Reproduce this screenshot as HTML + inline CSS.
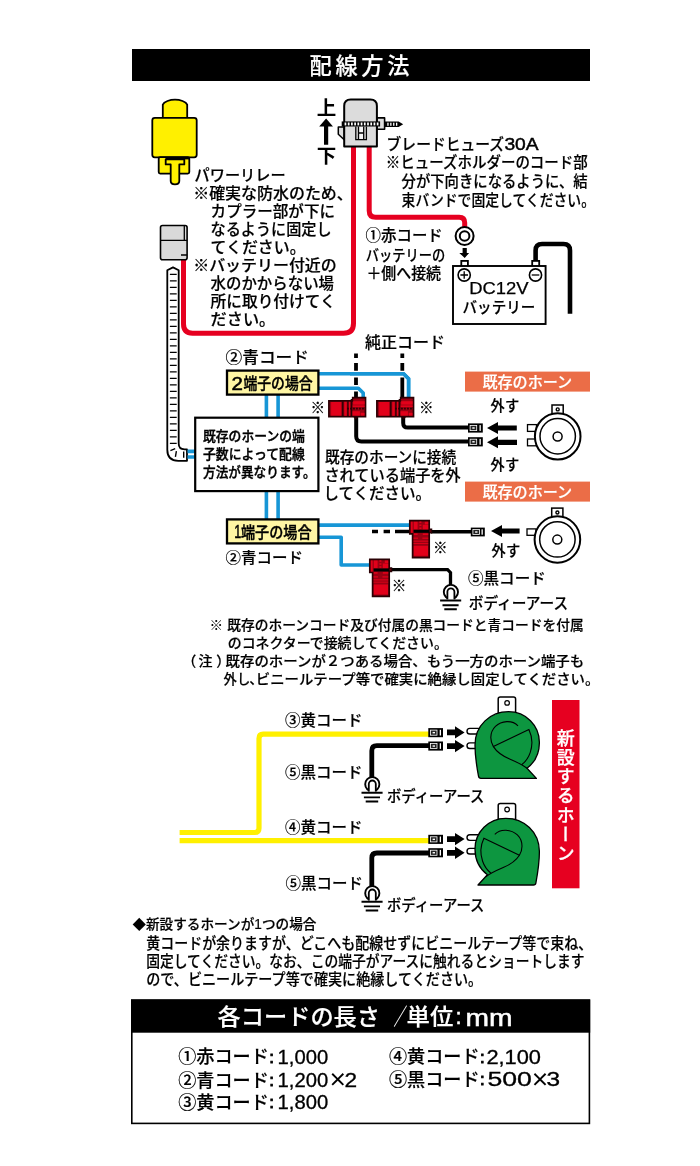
<!DOCTYPE html>
<html lang="ja">
<head>
<meta charset="utf-8">
<title>配線方法</title>
<style>
html,body{margin:0;padding:0;background:#fff;}
body{width:700px;height:1166px;overflow:hidden;position:relative;font-family:"Liberation Sans","Noto Sans CJK JP",sans-serif;}
svg{position:absolute;left:0;top:0;display:block;will-change:transform;}
svg text{font-family:"Liberation Sans","Noto Sans CJK JP",sans-serif;}
.vert{position:absolute;left:549.3px;top:701.8px;width:27.5px;height:188.3px;color:#fff;
 writing-mode:vertical-rl;text-orientation:upright;font-size:18px;font-weight:500;line-height:27.5px;
 letter-spacing:1.2px;text-align:center;white-space:nowrap;-webkit-text-stroke:0.25px #fff;}
</style>
</head>
<body>
<svg width="700" height="1166" viewBox="0 0 700 1166">
<rect x="132" y="49" width="458" height="32" fill="#000"/>
<text x="309.4" y="74.1" font-size="22.2" font-weight="500" fill="#fff" stroke="#fff" stroke-width="0.2" letter-spacing="3.8">配線方法</text>
<g fill="none" stroke="#e60020" stroke-width="5">
<path d="M353.5,146 V323.2 Q353.5,333.2 343.5,333.2 H192.6 Q183.5,333.2 183.5,324.1 V259"/>
<path d="M369.2,146 V210.7 Q369.2,217.2 375.7,217.2 H459.2 Q464.7,217.2 464.7,222.7 V228"/>
</g>
<g fill="#fff000" stroke="#000" stroke-width="1.8" stroke-linejoin="round">
<path d="M162.8,118 V104.6 C164,101.6 170,99.7 175,99.7 C180,99.7 186,101.6 187.2,104.6 V118 Z"/>
<rect x="152.3" y="117.8" width="44.4" height="39.5" rx="2.5"/>
<rect x="158.7" y="157.2" width="30.6" height="16.4" rx="1.5"/>
<path d="M165.7,159.3 H184.3 V164.4 H179.3 V181 Q179.3,184.3 175,184.3 Q170.7,184.3 170.7,181 V164.4 H165.7 Z"/>
</g>
<rect x="165.6" y="157.2" width="23.4" height="2.2" fill="#000"/>
<text x="326.4" y="114.6" font-size="19.5" font-weight="700" fill="#000" text-anchor="middle">上</text>
<text x="326.4" y="163.3" font-size="19.5" font-weight="700" fill="#000" text-anchor="middle">下</text>
<path d="M326.1,118.4 L333,126.6 H328.2 V144.8 H324 V126.6 H319.2 Z" fill="#000"/>
<g fill="#dcdcdc" stroke="#000" stroke-linejoin="round">
<path d="M344.2,127 H338.3 V134.3 L344.2,139.8 Z" stroke-width="1.5"/>
<rect x="377" y="117.9" width="7.6" height="11.4" stroke-width="1.6"/>
<path d="M344.2,146.5 V106 Q344.2,99.5 350.7,99.5 H370.4 Q376.9,99.5 376.9,106 V146.5 Z" stroke-width="2"/>
</g>
<rect x="358.4" y="127" width="5.4" height="12.8" fill="#f4f4f4"/>
<path d="M355.8,126.5 V139.7 H366.4 V126.5 M358.5,126.5 V139.7 M363.7,126.5 V139.7 M358.5,133 H363.7" fill="none" stroke="#000" stroke-width="1.3"/>
<rect x="341.7" y="121.4" width="38.4" height="5.1" fill="#000"/>
<rect x="344.60" y="122.5" width="1.7" height="2.9" fill="#fff"/>
<rect x="347.82" y="122.5" width="1.7" height="2.9" fill="#fff"/>
<rect x="351.04" y="122.5" width="1.7" height="2.9" fill="#fff"/>
<rect x="354.26" y="122.5" width="1.7" height="2.9" fill="#fff"/>
<rect x="357.48" y="122.5" width="1.7" height="2.9" fill="#fff"/>
<rect x="360.70" y="122.5" width="1.7" height="2.9" fill="#fff"/>
<rect x="363.92" y="122.5" width="1.7" height="2.9" fill="#fff"/>
<rect x="367.14" y="122.5" width="1.7" height="2.9" fill="#fff"/>
<rect x="370.36" y="122.5" width="1.7" height="2.9" fill="#fff"/>
<rect x="373.58" y="122.5" width="1.7" height="2.9" fill="#fff"/>
<rect x="376.80" y="122.5" width="1.7" height="2.9" fill="#fff"/>
<path d="M385,121.4 H398.6 L403.2,124.2 L398.6,127.1 H385 Z" fill="#000"/>
<rect x="387.30" y="122.7" width="1.3" height="3.1" fill="#fff"/>
<rect x="390.20" y="122.7" width="1.3" height="3.1" fill="#fff"/>
<rect x="393.10" y="122.7" width="1.3" height="3.1" fill="#fff"/>
<rect x="396.00" y="122.7" width="1.3" height="3.1" fill="#fff"/>
<circle cx="464.6" cy="236" r="9" fill="#fff" stroke="#000" stroke-width="2"/>
<circle cx="464.6" cy="236" r="4.8" fill="#fff" stroke="#000" stroke-width="2"/>
<path d="M462.6,247.9 H466.8 V252.9 H469.1 L464.7,258.1 L459.3,252.9 H462.6 Z" fill="#000"/>
<path d="M535.6,262 V250.5 Q535.6,244 542.1,244 H563.5 Q570,244 570,250.5 V313.8" fill="none" stroke="#000" stroke-width="4.6"/>
<rect x="461.3" y="260.9" width="6.6" height="6" fill="#fff" stroke="#000" stroke-width="1.8"/>
<rect x="532.2" y="260.9" width="7" height="6" fill="#fff" stroke="#000" stroke-width="1.8"/>
<rect x="453" y="266" width="92.6" height="58" fill="#fff" stroke="#000" stroke-width="1.9"/>
<circle cx="464.2" cy="275" r="6.1" fill="#fff" stroke="#000" stroke-width="1.6"/>
<path d="M460.4,275 H468 M464.2,271.2 V278.8" stroke="#000" stroke-width="1.3" fill="none"/>
<circle cx="535.5" cy="275" r="6.1" fill="#fff" stroke="#000" stroke-width="1.6"/>
<path d="M531.7,275 H539.3" stroke="#000" stroke-width="1.3" fill="none"/>
<text x="469.2" y="293.6" font-size="16" font-weight="400" fill="#000" textLength="59.4" lengthAdjust="spacingAndGlyphs" stroke="#000" stroke-width="0.25">DC12V</text>
<text x="462.6" y="312.8" font-size="15.6" font-weight="500" fill="#000" stroke="#000" stroke-width="0.2" textLength="72.6" lengthAdjust="spacingAndGlyphs">バッテリー</text>
<rect x="160.5" y="225.5" width="26.6" height="34.2" rx="2" fill="#d9d9d9" stroke="#000" stroke-width="1.6"/>
<path d="M160.5,240.4 H187.1 M184.3,225.5 V240.4 M181,255 H187.1" stroke="#000" stroke-width="1.3" fill="none"/>
<path d="M167.3,270.2 L173,267.4 L178.7,270.2 V443.5 Q178.7,449.3 184.5,449.3 H187 V460.8 H178.3 Q167.3,460.8 167.3,449.8 Z" fill="#fff" stroke="#000" stroke-width="1.8" stroke-linejoin="round"/>
<path d="M169.9,274.4 H176.7 M169.9,280.9 H176.7 M169.9,287.4 H176.7 M169.9,293.9 H176.7 M169.9,300.4 H176.7 M169.9,306.9 H176.7 M169.9,313.4 H176.7 M169.9,319.9 H176.7 M169.9,326.4 H176.7 M169.9,332.9 H176.7 M169.9,339.4 H176.7 M169.9,345.9 H176.7 M169.9,352.4 H176.7 M169.9,358.9 H176.7 M169.9,365.4 H176.7 M169.9,371.9 H176.7 M169.9,378.4 H176.7 M169.9,384.9 H176.7 M169.9,391.4 H176.7 M169.9,397.9 H176.7 M169.9,404.4 H176.7 M169.9,410.9 H176.7 M169.9,417.4 H176.7 M169.9,423.9 H176.7 M169.9,430.4 H176.7 M169.9,436.9 H176.7 M169.9,443.4 H176.7 M170.4,450.6 L175.2,448.6 M176.4,451.2 L175.4,456.8 M183.7,451.4 V457.8" stroke="#000" stroke-width="1.4" fill="none"/>
<g fill="none" stroke="#1796d6" stroke-width="3.6" stroke-linejoin="round">
<path d="M187.5,451.4 H195 M187.5,457 H195"/>
<path d="M318,373.7 H403.6 L408.6,378.7 V398"/>
<path d="M318,388.2 H358.4 L363.2,393 V398"/>
<path d="M266.4,394 V418 M278.1,394 V418"/>
<path d="M266.4,491 V520 M278.1,491 V520"/>
<path d="M318,525.1 H410"/>
<path d="M318,537.2 H341.2 V565 H370"/>
</g>
<g stroke="#000" stroke-width="3.8" fill="none">
<path d="M356,353.6 V357.9 M356,362.9 V370.7 M356,377.4 V385 M356,391.6 V398"/>
<path d="M402.3,353.6 V357.9 M402.3,362.9 V370.7 M402.3,377.4 V398"/>
</g>
<path d="M350,373.7 H403.6 L408.6,378.7 V398" fill="none" stroke="#1796d6" stroke-width="3.4"/>
<g stroke="#000" stroke-width="4" fill="none">
<path d="M356.2,417 V436.3 Q356.2,441.5 361.4,441.5 H469"/>
<path d="M403.2,417 V423 Q403.2,427.6 407.8,427.6 H469"/>
</g>
<rect x="227" y="370.6" width="91.4" height="24" fill="#fff6a4" stroke="#000" stroke-width="2.3"/>
<text x="231.6" y="389.9" font-size="17.5" font-weight="400" fill="#000" textLength="11.4" lengthAdjust="spacingAndGlyphs" stroke="#000" stroke-width="0.5">2</text>
<text x="243.4" y="389.0" font-size="15.6" font-weight="500" fill="#000" stroke="#000" stroke-width="0.38" textLength="69.2" lengthAdjust="spacingAndGlyphs">端子の場合</text>
<rect x="227" y="519.4" width="91.4" height="24" fill="#fff6a4" stroke="#000" stroke-width="2.3"/>
<text x="234.2" y="538.4" font-size="17.5" font-weight="400" fill="#000" textLength="7.0" lengthAdjust="spacingAndGlyphs" stroke="#000" stroke-width="0.5">1</text>
<text x="241.0" y="537.5" font-size="15.6" font-weight="500" fill="#000" stroke="#000" stroke-width="0.38" textLength="70.6" lengthAdjust="spacingAndGlyphs">端子の場合</text>
<rect x="195.2" y="417.7" width="123.2" height="73.4" fill="#fff" stroke="#000" stroke-width="2.2"/>
<text x="203.0" y="440.8" font-size="13.2" font-weight="500" fill="#000" stroke="#000" stroke-width="0.38" textLength="101.8" lengthAdjust="spacingAndGlyphs">既存のホーンの端</text>
<text x="203.0" y="458.9" font-size="13.2" font-weight="500" fill="#000" stroke="#000" stroke-width="0.38" textLength="101.8" lengthAdjust="spacingAndGlyphs">子数によって配線</text>
<text x="203.0" y="476.8" font-size="13.2" font-weight="500" fill="#000" stroke="#000" stroke-width="0.38" textLength="112.6" lengthAdjust="spacingAndGlyphs">方法が異なります。</text>
<text x="225.6" y="363.4" font-size="16" font-weight="500" fill="#000" stroke="#000" stroke-width="0.2" textLength="83.4" lengthAdjust="spacingAndGlyphs">②青コード</text>
<text x="225.6" y="562.5" font-size="15.2" font-weight="500" fill="#000" stroke="#000" stroke-width="0.2" textLength="77.4" lengthAdjust="spacingAndGlyphs">②青コード</text>
<text x="365.0" y="347.5" font-size="16" font-weight="500" fill="#000" stroke="#000" stroke-width="0.2" textLength="80.0" lengthAdjust="spacingAndGlyphs">純正コード</text>
<g transform="translate(328.1,400)"><path d="M0.8,0.8 H24.6 V-2.3 H37.4 V16.7 H0.8 Z" fill="#9a0012" stroke="#2a0004" stroke-width="1.7" stroke-linejoin="miter"/><rect x="3" y="2" width="10" height="13.6" fill="#e2001a"/><rect x="14" y="1.4" width="1.4" height="14.8" fill="#2a0004"/><rect x="16.2" y="1.8" width="2.4" height="14" fill="#e2001a"/><rect x="19.2" y="1.4" width="1.1" height="14.8" fill="#2a0004"/><rect x="20.9" y="1.8" width="1.3" height="14" fill="#e2001a"/><rect x="22.6" y="-1" width="1.6" height="17.2" fill="#2a0004"/><rect x="25" y="-1" width="11.4" height="1.6" fill="#9a0012"/><rect x="25" y="1.2" width="11.6" height="3.4" fill="#e2001a"/><rect x="24.6" y="5.4" width="12" height="1.6" fill="#e2001a"/><rect x="24.4" y="11.2" width="7.4" height="4.4" fill="#e2001a"/><rect x="32.6" y="12.8" width="3.8" height="2.8" fill="#e2001a"/><path d="M19,8.6 H37" stroke="#2a0004" stroke-width="1.8" stroke-dasharray="1.7 1.3" fill="none"/><path d="M25.2,17.2 H30 L27.8,19.6 Z" fill="#2a0004"/></g>
<g transform="translate(376.1,400)"><path d="M0.8,0.8 H24.6 V-2.3 H37.4 V16.7 H0.8 Z" fill="#9a0012" stroke="#2a0004" stroke-width="1.7" stroke-linejoin="miter"/><rect x="3" y="2" width="10" height="13.6" fill="#e2001a"/><rect x="14" y="1.4" width="1.4" height="14.8" fill="#2a0004"/><rect x="16.2" y="1.8" width="2.4" height="14" fill="#e2001a"/><rect x="19.2" y="1.4" width="1.1" height="14.8" fill="#2a0004"/><rect x="20.9" y="1.8" width="1.3" height="14" fill="#e2001a"/><rect x="22.6" y="-1" width="1.6" height="17.2" fill="#2a0004"/><rect x="25" y="-1" width="11.4" height="1.6" fill="#9a0012"/><rect x="25" y="1.2" width="11.6" height="3.4" fill="#e2001a"/><rect x="24.6" y="5.4" width="12" height="1.6" fill="#e2001a"/><rect x="24.4" y="11.2" width="7.4" height="4.4" fill="#e2001a"/><rect x="32.6" y="12.8" width="3.8" height="2.8" fill="#e2001a"/><path d="M19,8.6 H37" stroke="#2a0004" stroke-width="1.8" stroke-dasharray="1.7 1.3" fill="none"/><path d="M25.2,17.2 H30 L27.8,19.6 Z" fill="#2a0004"/></g>
<path d="M372,531.5 H378 M383.6,531.5 H390 M395,531.5 H410" stroke="#000" stroke-width="3.6" fill="none"/>
<path d="M431,531.7 H472" stroke="#000" stroke-width="3.4" fill="none"/>
<path d="M389,569.7 H447.6 L450.5,572.6 V585" stroke="#000" stroke-width="3.3" fill="none" stroke-linejoin="miter"/>
<g transform="translate(409,519.8)"><path d="M0.8,0.8 H20.2 V9.6 H22.4 V12.8 H20.2 V37.8 H3.6 V14 H0.8 Z" fill="#9a0012" stroke="#2a0004" stroke-width="1.7" stroke-linejoin="miter"/><rect x="1.8" y="2" width="1.8" height="11" fill="#e2001a"/><rect x="4.8" y="2" width="3.8" height="7.6" fill="#e2001a"/><rect x="13.8" y="5" width="5.4" height="4.6" fill="#e2001a"/><rect x="15.8" y="2" width="3.4" height="2.6" fill="#e2001a"/><path d="M11.4,1.8 V9.4" stroke="#e2001a" stroke-width="2" stroke-dasharray="1.5 1.5" fill="none"/><rect x="4.6" y="10" width="16" height="3" fill="#000"/><rect x="4.8" y="13.6" width="3.8" height="1.6" fill="#e2001a"/><rect x="13.8" y="13.6" width="5.4" height="1.6" fill="#e2001a"/><rect x="4.6" y="17.8" width="4.4" height="1.2" fill="#e2001a"/><rect x="13.4" y="17.8" width="5.8" height="1.2" fill="#e2001a"/><rect x="4.6" y="20.8" width="14.6" height="1.1" fill="#e2001a"/><rect x="4.6" y="23.2" width="14.6" height="0.9" fill="#e2001a"/><rect x="4.8" y="26" width="14.2" height="10" fill="#e2001a"/></g>
<g transform="translate(369,558.5)"><path d="M0.8,0.8 H20.2 V9.6 H22.4 V12.8 H20.2 V37.8 H3.6 V14 H0.8 Z" fill="#9a0012" stroke="#2a0004" stroke-width="1.7" stroke-linejoin="miter"/><rect x="1.8" y="2" width="1.8" height="11" fill="#e2001a"/><rect x="4.8" y="2" width="3.8" height="7.6" fill="#e2001a"/><rect x="13.8" y="5" width="5.4" height="4.6" fill="#e2001a"/><rect x="15.8" y="2" width="3.4" height="2.6" fill="#e2001a"/><path d="M11.4,1.8 V9.4" stroke="#e2001a" stroke-width="2" stroke-dasharray="1.5 1.5" fill="none"/><rect x="4.6" y="10" width="16" height="3" fill="#000"/><rect x="4.8" y="13.6" width="3.8" height="1.6" fill="#e2001a"/><rect x="13.8" y="13.6" width="5.4" height="1.6" fill="#e2001a"/><rect x="4.6" y="17.8" width="4.4" height="1.2" fill="#e2001a"/><rect x="13.4" y="17.8" width="5.8" height="1.2" fill="#e2001a"/><rect x="4.6" y="20.8" width="14.6" height="1.1" fill="#e2001a"/><rect x="4.6" y="23.2" width="14.6" height="0.9" fill="#e2001a"/><rect x="4.8" y="26" width="14.2" height="10" fill="#e2001a"/></g>
<text x="310.4" y="413.3" font-size="14.6" font-weight="500" fill="#000" stroke="#000" stroke-width="0.2">※</text>
<text x="419.0" y="413.3" font-size="14.6" font-weight="500" fill="#000" stroke="#000" stroke-width="0.2">※</text>
<text x="433.0" y="553.2" font-size="14.6" font-weight="500" fill="#000" stroke="#000" stroke-width="0.2">※</text>
<text x="391.8" y="591.3" font-size="14.6" font-weight="500" fill="#000" stroke="#000" stroke-width="0.2">※</text>
<rect x="468" y="423.4" width="14.8" height="9.2" fill="#000"/>
<rect x="470.10" y="425.40" width="6.6" height="5.20" fill="#222" stroke="#fff" stroke-width="0.8"/>
<rect x="472.30" y="427.30" width="2.4" height="1.4" fill="#fff"/>
<rect x="479.50" y="425.10" width="1.3" height="5.80" fill="#fff"/>
<rect x="468" y="437.2" width="14.8" height="9.2" fill="#000"/>
<rect x="470.10" y="439.20" width="6.6" height="5.20" fill="#222" stroke="#fff" stroke-width="0.8"/>
<rect x="472.30" y="441.10" width="2.4" height="1.4" fill="#fff"/>
<rect x="479.50" y="438.90" width="1.3" height="5.80" fill="#fff"/>
<rect x="470.8" y="527.6" width="14" height="8.8" fill="#000"/>
<rect x="472.90" y="529.60" width="6.6" height="4.80" fill="#222" stroke="#fff" stroke-width="0.8"/>
<rect x="475.10" y="531.30" width="2.4" height="1.4" fill="#fff"/>
<rect x="481.50" y="529.30" width="1.3" height="5.40" fill="#fff"/>
<path d="M487,428 L498,422 V425.4 H516.8 V430.6 H498 V434 Z" fill="#000"/>
<path d="M487,442.3 L498,436.3 V439.7 H517 V444.90000000000003 H498 V448.3 Z" fill="#000"/>
<path d="M491,531 L502,525 V528.4 H519.6 V533.6 H502 V537 Z" fill="#000"/>
<rect x="552.0" y="405.0" width="11.2" height="10" fill="#fff" stroke="#000" stroke-width="1.5"/>
<circle cx="557.7" cy="409.4" r="1.5" fill="#fff" stroke="#000" stroke-width="1.4"/>
<rect x="527.5" y="424.6" width="9" height="6.8" fill="#fff" stroke="#000" stroke-width="1.3"/>
<rect x="527.5" y="439.0" width="9" height="6.8" fill="#fff" stroke="#000" stroke-width="1.3"/>
<ellipse cx="557.7" cy="436.4" rx="22.8" ry="23.2" fill="#fff" stroke="#000" stroke-width="2"/>
<circle cx="557.7" cy="436.3" r="17.7" fill="#fff" stroke="#000" stroke-width="1.5"/>
<circle cx="557.6" cy="436.5" r="4.5" fill="#fff" stroke="#000" stroke-width="1.5"/>
<rect x="551.7" y="508.1" width="11.2" height="10" fill="#fff" stroke="#000" stroke-width="1.5"/>
<circle cx="557.4" cy="512.5" r="1.5" fill="#fff" stroke="#000" stroke-width="1.4"/>
<rect x="527.0" y="528.9" width="9" height="6.4" fill="#fff" stroke="#000" stroke-width="1.3"/>
<ellipse cx="557.4" cy="539.5" rx="22.8" ry="23.2" fill="#fff" stroke="#000" stroke-width="2"/>
<circle cx="557.4" cy="539.4" r="17.7" fill="#fff" stroke="#000" stroke-width="1.5"/>
<circle cx="557.3" cy="539.5999999999999" r="4.5" fill="#fff" stroke="#000" stroke-width="1.5"/>
<rect x="465" y="371.6" width="125" height="20" fill="#eb6d47"/>
<text x="482.4" y="387.7" font-size="15.6" font-weight="500" fill="#fff" stroke="#fff" stroke-width="0.2" textLength="89.8" lengthAdjust="spacingAndGlyphs">既存のホーン</text>
<rect x="465" y="481.6" width="125" height="20" fill="#eb6d47"/>
<text x="482.4" y="497.7" font-size="15.6" font-weight="500" fill="#fff" stroke="#fff" stroke-width="0.2" textLength="89.8" lengthAdjust="spacingAndGlyphs">既存のホーン</text>
<text x="490.6" y="410.6" font-size="14.5" font-weight="500" fill="#000" stroke="#000" stroke-width="0.2" textLength="28.6" lengthAdjust="spacingAndGlyphs">外す</text>
<text x="490.6" y="469.6" font-size="14.5" font-weight="500" fill="#000" stroke="#000" stroke-width="0.2" textLength="28.6" lengthAdjust="spacingAndGlyphs">外す</text>
<text x="491.6" y="556.2" font-size="14.5" font-weight="500" fill="#000" stroke="#000" stroke-width="0.2" textLength="28.6" lengthAdjust="spacingAndGlyphs">外す</text>
<circle cx="450.9" cy="592" r="7.1" fill="#fff" stroke="#000" stroke-width="1.9"/>
<path d="M447.4,600 V591.8 A3.5,3.5 0 0 1 454.4,591.8 V600" fill="#fff" stroke="#000" stroke-width="1.8"/>
<rect x="440.9" y="599.4" width="20" height="11.6" fill="#fff"/>
<path d="M440.09999999999997,600.5 H461.2 M442.5,605.2 H458.59999999999997 M444.29999999999995,609.3 H456.79999999999995" stroke="#000" stroke-width="1.9" fill="none"/>
<text x="468.0" y="583.8" font-size="15.4" font-weight="500" fill="#000" stroke="#000" stroke-width="0.2" textLength="77.8" lengthAdjust="spacingAndGlyphs">⑤黒コード</text>
<text x="468.8" y="608.5" font-size="15.6" font-weight="500" fill="#000" stroke="#000" stroke-width="0.2" textLength="99.4" lengthAdjust="spacingAndGlyphs">ボディーアース</text>
<text x="194.6" y="181.2" font-size="15.5" font-weight="500" fill="#000" stroke="#000" stroke-width="0.2" textLength="91.0" lengthAdjust="spacingAndGlyphs">パワーリレー</text>
<text x="193.2" y="198.8" font-size="15.6" font-weight="500" fill="#000" stroke="#000" stroke-width="0.2" textLength="159.6" lengthAdjust="spacingAndGlyphs">※確実な防水のため、</text>
<text x="210.6" y="216.8" font-size="15.6" font-weight="500" fill="#000" stroke="#000" stroke-width="0.2" textLength="124.4" lengthAdjust="spacingAndGlyphs">カプラー部が下に</text>
<text x="210.6" y="234.8" font-size="15.6" font-weight="500" fill="#000" stroke="#000" stroke-width="0.2" textLength="121.0" lengthAdjust="spacingAndGlyphs">なるように固定し</text>
<text x="210.6" y="252.8" font-size="15.6" font-weight="500" fill="#000" stroke="#000" stroke-width="0.2" textLength="95.0" lengthAdjust="spacingAndGlyphs">てください。</text>
<text x="193.2" y="270.9" font-size="15.6" font-weight="500" fill="#000" stroke="#000" stroke-width="0.2" textLength="143.6" lengthAdjust="spacingAndGlyphs">※バッテリー付近の</text>
<text x="210.6" y="288.9" font-size="15.6" font-weight="500" fill="#000" stroke="#000" stroke-width="0.2" textLength="123.4" lengthAdjust="spacingAndGlyphs">水のかからない場</text>
<text x="210.6" y="306.9" font-size="15.6" font-weight="500" fill="#000" stroke="#000" stroke-width="0.2" textLength="125.0" lengthAdjust="spacingAndGlyphs">所に取り付けてく</text>
<text x="210.6" y="324.9" font-size="15.6" font-weight="500" fill="#000" stroke="#000" stroke-width="0.2" textLength="64.6" lengthAdjust="spacingAndGlyphs">ださい。</text>
<text x="386.6" y="149.5" font-size="15.8" font-weight="500" fill="#000" stroke="#000" stroke-width="0.2" textLength="117.4" lengthAdjust="spacingAndGlyphs">ブレードヒューズ</text>
<text x="504.4" y="150.3" font-size="17" font-weight="400" fill="#000" textLength="34.2" lengthAdjust="spacingAndGlyphs" stroke="#000" stroke-width="0.45">30A</text>
<text x="385.8" y="168.3" font-size="15.6" font-weight="500" fill="#000" stroke="#000" stroke-width="0.2" textLength="202.0" lengthAdjust="spacingAndGlyphs">※ヒューズホルダーのコード部</text>
<text x="401.6" y="187.2" font-size="15.6" font-weight="500" fill="#000" stroke="#000" stroke-width="0.2" textLength="186.0" lengthAdjust="spacingAndGlyphs">分が下向きになるように、結</text>
<text x="401.6" y="206.2" font-size="15.6" font-weight="500" fill="#000" stroke="#000" stroke-width="0.2" textLength="193.4" lengthAdjust="spacingAndGlyphs">束バンドで固定してください。</text>
<text x="365.6" y="241.3" font-size="15.5" font-weight="500" fill="#000" stroke="#000" stroke-width="0.2" textLength="77.2" lengthAdjust="spacingAndGlyphs">①赤コード</text>
<text x="365.8" y="261.2" font-size="15.6" font-weight="500" fill="#000" stroke="#000" stroke-width="0.2" textLength="79.4" lengthAdjust="spacingAndGlyphs">バッテリーの</text>
<text x="366.4" y="279.2" font-size="15.6" font-weight="500" fill="#000" stroke="#000" stroke-width="0.2" textLength="74.6" lengthAdjust="spacingAndGlyphs">＋側へ接続</text>
<text x="325.0" y="463.1" font-size="15.6" font-weight="500" fill="#000" stroke="#000" stroke-width="0.2" textLength="131.2" lengthAdjust="spacingAndGlyphs">既存のホーンに接続</text>
<text x="324.4" y="480.9" font-size="15.6" font-weight="500" fill="#000" stroke="#000" stroke-width="0.2" textLength="136.4" lengthAdjust="spacingAndGlyphs">されている端子を外</text>
<text x="323.4" y="498.9" font-size="15.6" font-weight="500" fill="#000" stroke="#000" stroke-width="0.2" textLength="107.6" lengthAdjust="spacingAndGlyphs">してください。</text>
<text x="209.6" y="629.7" font-size="13.5" font-weight="400" fill="#000">※</text>
<text x="227.2" y="629.9" font-size="14" font-weight="500" fill="#000" stroke="#000" stroke-width="0.2" textLength="356.6" lengthAdjust="spacingAndGlyphs">既存のホーンコード及び付属の黒コードと青コードを付属</text>
<text x="227.8" y="647.5" font-size="14" font-weight="500" fill="#000" stroke="#000" stroke-width="0.2" textLength="220.0" lengthAdjust="spacingAndGlyphs">のコネクターで接続してください。</text>
<text x="182.2" y="665.5" font-size="14" font-weight="500" fill="#000" stroke="#000" stroke-width="0.2">（</text>
<text x="198.4" y="665.5" font-size="14" font-weight="500" fill="#000" stroke="#000" stroke-width="0.2">注</text>
<text x="216.2" y="665.5" font-size="14" font-weight="500" fill="#000" stroke="#000" stroke-width="0.2">）</text>
<text x="225.6" y="665.5" font-size="14" font-weight="500" fill="#000" stroke="#000" stroke-width="0.2" textLength="358.6" lengthAdjust="spacingAndGlyphs">既存のホーンが２つある場合、もう一方のホーン端子も</text>
<text x="223.6" y="683.6" font-size="14" font-weight="500" fill="#000" stroke="#000" stroke-width="0.2" textLength="26.6" lengthAdjust="spacingAndGlyphs">外し</text>
<text x="249.2" y="683.6" font-size="14" font-weight="500" fill="#000" stroke="#000" stroke-width="0.2">、</text>
<text x="255.8" y="683.6" font-size="14" font-weight="500" fill="#000" stroke="#000" stroke-width="0.2" textLength="343.6" lengthAdjust="spacingAndGlyphs">ビニールテープ等で確実に絶縁し固定してください。</text>
<rect x="552" y="700" width="27.5" height="188.3" fill="#e60020"/>
<g fill="none" stroke="#fff000" stroke-width="5.2">
<path d="M179.6,832.5 H254.8 Q259,832.5 259,828.3 V738.4 Q259,734.1 263.2,734.1 H429"/>
<path d="M179.6,840.7 H429"/>
</g>
<g fill="none" stroke="#000" stroke-width="4.8">
<path d="M429,745.7 H376.8 Q371.8,745.7 371.8,750.7 V778"/>
<path d="M429,853.0 H376.8 Q371.8,853.0 371.8,858.0 V887"/>
</g>
<path d="M498.2,713 V699 Q498.2,696.9 500.3,696.9 H513.5 Q515.6,696.9 515.6,699 V713 Z" fill="#fff" stroke="#000" stroke-width="1.5"/>
<circle cx="507.1" cy="702.9" r="2.3" fill="#fff" stroke="#000" stroke-width="1.2"/>
<rect x="467" y="728.4" width="14" height="5.6" rx="2.8" fill="#fff" stroke="#000" stroke-width="1.4"/>
<rect x="467" y="742.9" width="14" height="5.6" rx="2.8" fill="#fff" stroke="#000" stroke-width="1.4"/>
<g transform="translate(0,0)">
<path d="M508.6,711.7 C525.8,711.7 539.4,725.4 539.4,742.4 C539.4,753.2 534.4,762.6 527,768.2 L536.4,778.4 H481 Q478.8,778.4 478.5,776.2 C476.4,765 475,755 475,745 C475,725 490.5,711.7 508.6,711.7 Z" fill="#0d9640" stroke="#000" stroke-width="1.3" stroke-linejoin="round"/>
<g transform="translate(0,0)" fill="none" stroke="#000" stroke-width="1.1">
<path d="M518,725.8 C515.4,723 511.2,721.4 506.8,721.6 C497.8,722 490.8,728.6 490.8,737.6 C490.8,741 491.8,744 493.4,746.6 C496.4,751.4 501.8,755.6 509.6,759 C516.6,762 522.4,764.6 527,768.2"/>
<path d="M493.4,746.6 L528.9,729.6 C532.2,736.6 532.6,745.6 530.2,752.6 C528.4,757.8 525.6,761.6 521.8,764.6"/>
</g></g>
<path d="M498.2,819.6 V805.6 Q498.2,803.5 500.3,803.5 H513.5 Q515.6,803.5 515.6,805.6 V819.6 Z" fill="#fff" stroke="#000" stroke-width="1.5"/>
<circle cx="507.1" cy="809.5" r="2.3" fill="#fff" stroke="#000" stroke-width="1.2"/>
<rect x="467" y="834.8" width="14" height="5.6" rx="2.8" fill="#fff" stroke="#000" stroke-width="1.4"/>
<rect x="467" y="848.4" width="14" height="5.6" rx="2.8" fill="#fff" stroke="#000" stroke-width="1.4"/>
<g transform="translate(1014.4,106.6) scale(-1,1)">
<path d="M508.6,711.7 C525.8,711.7 539.4,725.4 539.4,742.4 C539.4,753.2 534.4,762.6 527,768.2 L536.4,778.4 H481 Q478.8,778.4 478.5,776.2 C476.4,765 475,755 475,745 C475,725 490.5,711.7 508.6,711.7 Z" fill="#0d9640" stroke="#000" stroke-width="1.3" stroke-linejoin="round"/>
<g transform="translate(1.6,2.0)" fill="none" stroke="#000" stroke-width="1.1">
<path d="M518,725.8 C515.4,723 511.2,721.4 506.8,721.6 C497.8,722 490.8,728.6 490.8,737.6 C490.8,741 491.8,744 493.4,746.6 C496.4,751.4 501.8,755.6 509.6,759 C516.6,762 522.4,764.6 527,768.2"/>
<path d="M493.4,746.6 L528.9,729.6 C532.2,736.6 532.6,745.6 530.2,752.6 C528.4,757.8 525.6,761.6 521.8,764.6"/>
</g></g>
<rect x="428.3" y="728.1" width="14.7" height="9.1" fill="#000"/>
<rect x="430.40" y="730.10" width="6.6" height="5.10" fill="#222" stroke="#fff" stroke-width="0.8"/>
<rect x="432.60" y="731.95" width="2.4" height="1.4" fill="#fff"/>
<rect x="439.70" y="729.80" width="1.3" height="5.70" fill="#fff"/>
<rect x="428.3" y="741.5" width="14.7" height="9.1" fill="#000"/>
<rect x="430.40" y="743.50" width="6.6" height="5.10" fill="#222" stroke="#fff" stroke-width="0.8"/>
<rect x="432.60" y="745.35" width="2.4" height="1.4" fill="#fff"/>
<rect x="439.70" y="743.20" width="1.3" height="5.70" fill="#fff"/>
<path d="M464.6,732.4 L455.0,726.1999999999999 V729.5 H447 V735.3 H455.0 V738.6 Z" fill="#000"/>
<path d="M464.6,746.1 L455.0,739.9 V743.2 H447 V749.0 H455.0 V752.3000000000001 Z" fill="#000"/>
<rect x="428.3" y="834.8000000000001" width="14.7" height="9.1" fill="#000"/>
<rect x="430.40" y="836.80" width="6.6" height="5.10" fill="#222" stroke="#fff" stroke-width="0.8"/>
<rect x="432.60" y="838.65" width="2.4" height="1.4" fill="#fff"/>
<rect x="439.70" y="836.50" width="1.3" height="5.70" fill="#fff"/>
<rect x="428.3" y="848.2" width="14.7" height="9.1" fill="#000"/>
<rect x="430.40" y="850.20" width="6.6" height="5.10" fill="#222" stroke="#fff" stroke-width="0.8"/>
<rect x="432.60" y="852.05" width="2.4" height="1.4" fill="#fff"/>
<rect x="439.70" y="849.90" width="1.3" height="5.70" fill="#fff"/>
<path d="M464.6,839.1 L455.0,832.9 V836.2 H447 V842.0 H455.0 V845.3000000000001 Z" fill="#000"/>
<path d="M464.6,852.8000000000001 L455.0,846.6 V849.9000000000001 H447 V855.7 H455.0 V859.0000000000001 Z" fill="#000"/>
<circle cx="372.3" cy="784.2" r="7.1" fill="#fff" stroke="#000" stroke-width="1.9"/>
<path d="M368.8,792.2 V784.0 A3.5,3.5 0 0 1 375.8,784.0 V792.2" fill="#fff" stroke="#000" stroke-width="1.8"/>
<rect x="362.3" y="791.6" width="20" height="11.6" fill="#fff"/>
<path d="M361.5,792.7 H382.6 M363.90000000000003,797.4000000000001 H380.0 M365.7,801.5 H378.2" stroke="#000" stroke-width="1.9" fill="none"/>
<circle cx="372.3" cy="893.2" r="7.1" fill="#fff" stroke="#000" stroke-width="1.9"/>
<path d="M368.8,901.2 V893.0 A3.5,3.5 0 0 1 375.8,893.0 V901.2" fill="#fff" stroke="#000" stroke-width="1.8"/>
<rect x="362.3" y="900.6" width="20" height="11.6" fill="#fff"/>
<path d="M361.5,901.7 H382.6 M363.90000000000003,906.4000000000001 H380.0 M365.7,910.5 H378.2" stroke="#000" stroke-width="1.9" fill="none"/>
<text x="285.0" y="725.8" font-size="15.4" font-weight="500" fill="#000" stroke="#000" stroke-width="0.2" textLength="77.4" lengthAdjust="spacingAndGlyphs">③黄コード</text>
<text x="285.0" y="777.6" font-size="15.4" font-weight="500" fill="#000" stroke="#000" stroke-width="0.2" textLength="77.4" lengthAdjust="spacingAndGlyphs">⑤黒コード</text>
<text x="285.0" y="832.8" font-size="15.4" font-weight="500" fill="#000" stroke="#000" stroke-width="0.2" textLength="77.4" lengthAdjust="spacingAndGlyphs">④黄コード</text>
<text x="285.6" y="889.0" font-size="15.4" font-weight="500" fill="#000" stroke="#000" stroke-width="0.2" textLength="77.4" lengthAdjust="spacingAndGlyphs">⑤黒コード</text>
<text x="387.0" y="801.9" font-size="15.6" font-weight="500" fill="#000" stroke="#000" stroke-width="0.2" textLength="97.4" lengthAdjust="spacingAndGlyphs">ボディーアース</text>
<text x="387.0" y="910.9" font-size="15.6" font-weight="500" fill="#000" stroke="#000" stroke-width="0.2" textLength="97.4" lengthAdjust="spacingAndGlyphs">ボディーアース</text>
<text x="132.6" y="928.5" font-size="13.5" font-weight="400" fill="#000">◆</text>
<text x="146.0" y="928.5" font-size="14" font-weight="500" fill="#000" stroke="#000" stroke-width="0.2" textLength="170.4" lengthAdjust="spacingAndGlyphs">新設するホーンが1つの場合</text>
<text x="146.2" y="948.6" font-size="15.6" font-weight="500" fill="#000" stroke="#000" stroke-width="0.2" textLength="446.0" lengthAdjust="spacingAndGlyphs">黄コードが余りますが、どこへも配線せずにビニールテープ等で束ね、</text>
<text x="146.2" y="966.9" font-size="15.6" font-weight="500" fill="#000" stroke="#000" stroke-width="0.2" textLength="438.4" lengthAdjust="spacingAndGlyphs">固定してください。なお、この端子がアースに触れるとショートします</text>
<text x="146.2" y="985.2" font-size="15.6" font-weight="500" fill="#000" stroke="#000" stroke-width="0.2" textLength="336.0" lengthAdjust="spacingAndGlyphs">ので、ビニールテープ等で確実に絶縁してください。</text>
<rect x="131.8" y="1000.2" width="457.6" height="123.2" fill="#fff" stroke="#000" stroke-width="1.6"/>
<rect x="131" y="999.4" width="459.2" height="33.3" fill="#000"/>
<text x="217.6" y="1024.9" font-size="22.6" font-weight="500" fill="#fff" stroke="#fff" stroke-width="0.2" textLength="162.4" lengthAdjust="spacingAndGlyphs">各コードの長さ</text>
<text x="393.6" y="1024.8" font-size="23" font-weight="700" fill="#fff" textLength="13.8" lengthAdjust="spacingAndGlyphs">／</text>
<text x="406.6" y="1025.0" font-size="23" font-weight="500" fill="#fff" stroke="#fff" stroke-width="0.2" textLength="46.8" lengthAdjust="spacingAndGlyphs">単位</text>
<text x="455.4" y="1023.6" font-size="22" font-weight="400" fill="#fff" stroke="#fff" stroke-width="0.5">:</text>
<text x="465.6" y="1025.6" font-size="24" font-weight="400" fill="#fff" textLength="47.0" lengthAdjust="spacingAndGlyphs" stroke="#fff" stroke-width="0.5">mm</text>
<text x="178.2" y="1063.4" font-size="18.4" font-weight="500" fill="#000" stroke="#000" stroke-width="0.2" textLength="90.6" lengthAdjust="spacingAndGlyphs">①赤コード</text>
<text x="269.2" y="1062.7" font-size="17" font-weight="400" fill="#000" stroke="#000" stroke-width="0.9">:</text>
<text x="277.6" y="1063.5" font-size="19.4" font-weight="400" fill="#000" textLength="50.6" lengthAdjust="spacingAndGlyphs" stroke="#000" stroke-width="0.3">1,000</text>
<text x="178.2" y="1086.5" font-size="18.4" font-weight="500" fill="#000" stroke="#000" stroke-width="0.2" textLength="90.6" lengthAdjust="spacingAndGlyphs">②青コード</text>
<text x="269.2" y="1085.8" font-size="17" font-weight="400" fill="#000" stroke="#000" stroke-width="0.9">:</text>
<text x="277.6" y="1086.6" font-size="19.4" font-weight="400" fill="#000" textLength="50.6" lengthAdjust="spacingAndGlyphs" stroke="#000" stroke-width="0.3">1,200</text>
<text x="328.2" y="1087.1" font-size="19" font-weight="700" fill="#000" style="font-family:'Noto Sans CJK JP',sans-serif">×</text>
<text x="344.4" y="1086.6" font-size="19.4" font-weight="400" fill="#000" textLength="12.6" lengthAdjust="spacingAndGlyphs" stroke="#000" stroke-width="0.3">2</text>
<text x="178.2" y="1109.1" font-size="18.4" font-weight="500" fill="#000" stroke="#000" stroke-width="0.2" textLength="90.6" lengthAdjust="spacingAndGlyphs">③黄コード</text>
<text x="269.2" y="1108.4" font-size="17" font-weight="400" fill="#000" stroke="#000" stroke-width="0.9">:</text>
<text x="277.6" y="1109.2" font-size="19.4" font-weight="400" fill="#000" textLength="50.6" lengthAdjust="spacingAndGlyphs" stroke="#000" stroke-width="0.3">1,800</text>
<text x="389.0" y="1063.4" font-size="18.4" font-weight="500" fill="#000" stroke="#000" stroke-width="0.2" textLength="90.6" lengthAdjust="spacingAndGlyphs">④黄コード</text>
<text x="480.0" y="1062.7" font-size="17" font-weight="400" fill="#000" stroke="#000" stroke-width="0.9">:</text>
<text x="486.4" y="1063.5" font-size="19.4" font-weight="400" fill="#000" textLength="54.6" lengthAdjust="spacingAndGlyphs" stroke="#000" stroke-width="0.3">2,100</text>
<text x="389.0" y="1086.1" font-size="18.4" font-weight="500" fill="#000" stroke="#000" stroke-width="0.2" textLength="90.6" lengthAdjust="spacingAndGlyphs">⑤黒コード</text>
<text x="480.0" y="1085.4" font-size="17" font-weight="400" fill="#000" stroke="#000" stroke-width="0.9">:</text>
<text x="487.4" y="1086.2" font-size="19.4" font-weight="400" fill="#000" textLength="44.4" lengthAdjust="spacingAndGlyphs" stroke="#000" stroke-width="0.3">500</text>
<text x="530.4" y="1086.7" font-size="19" font-weight="700" fill="#000" style="font-family:'Noto Sans CJK JP',sans-serif">×</text>
<text x="546.6" y="1086.2" font-size="19.4" font-weight="400" fill="#000" textLength="13.6" lengthAdjust="spacingAndGlyphs" stroke="#000" stroke-width="0.3">3</text>
</svg>
<div class="vert">新設するホーン</div>
</body>
</html>
